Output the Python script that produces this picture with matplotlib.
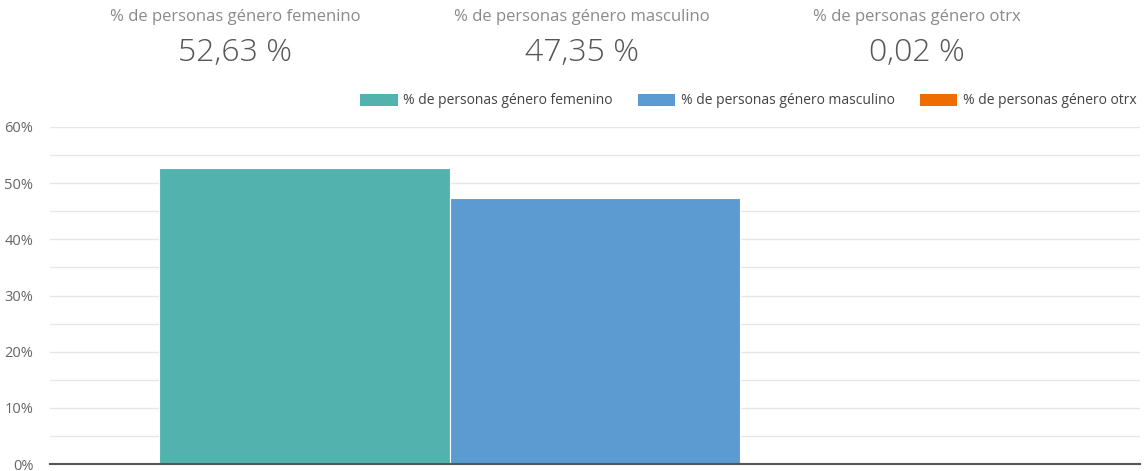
import numpy as np
import matplotlib
matplotlib.use("Agg")
import matplotlib.pyplot as plt
from matplotlib.patches import Patch

plt.rcParams['font.family'] = ['Open Sans', 'DejaVu Sans']

# data
series = ["% de personas género femenino",
          "% de personas género masculino",
          "% de personas género otrx"]
values = [52.63, 47.35, 0.02]
kpi_labels = ["52,63 %", "47,35 %", "0,02 %"]
colors = ["#52b3ae", "#5b9bd1", "#ef6c00"]
yticks = [0, 10, 20, 30, 40, 50, 60]

fig = plt.figure(figsize=(11.47, 4.71), dpi=100)
ax = fig.add_axes([50 / 1147, 7 / 471, 1090 / 1147, 337 / 471])

n = len(values)
width = 0.8 / n
x = np.arange(n) * width - 0.4 + width / 2
for xi, v, c in zip(x, values, colors):
    ax.bar(xi, v, width=width, color=c, edgecolor="white", linewidth=0.8, zorder=2)

ax.set_xlim(-0.5, 0.5)
ax.set_ylim(0, 60)
ax.set_yticks(yticks)
ax.set_yticklabels([f"{t}%" for t in yticks], color="#666666", fontsize=10.5)
ax.set_yticks(np.arange(5, 60, 10), minor=True)
ax.set_xticks([])
ax.grid(axis="y", which="both", color="#e6e6e6", linewidth=1, zorder=0)
ax.tick_params(axis="y", which="both", length=0, pad=12)
for s in ["top", "right", "left"]:
    ax.spines[s].set_visible(False)
ax.spines["bottom"].set_color("#555555")
ax.spines["bottom"].set_linewidth(1.5)
ax.spines["bottom"].set_zorder(3)

# scorecards on top
centers = [235, 582, 917]
for cx, title, kpi in zip(centers, series, kpi_labels):
    fig.text(cx / 1147, 1 - 17 / 471, title, ha="center", va="center",
             fontsize=12, color="#8a8a8a")
    fig.text(cx / 1147, 1 - 53 / 471, kpi, ha="center", va="center",
             fontsize=23, color="#555555", fontweight="light")

handles = [Patch(facecolor=c, label=s) for c, s in zip(colors, series)]
fig.legend(handles=handles, loc="center right", bbox_to_anchor=(1142 / 1147, 1 - 101 / 471),
           ncol=3, frameon=False, fontsize=10, labelcolor="#444444",
           handlelength=2.7, handleheight=1.0, handletextpad=0.4, columnspacing=1.8,
           borderaxespad=0)

fig.savefig("out.png", dpi=100)
